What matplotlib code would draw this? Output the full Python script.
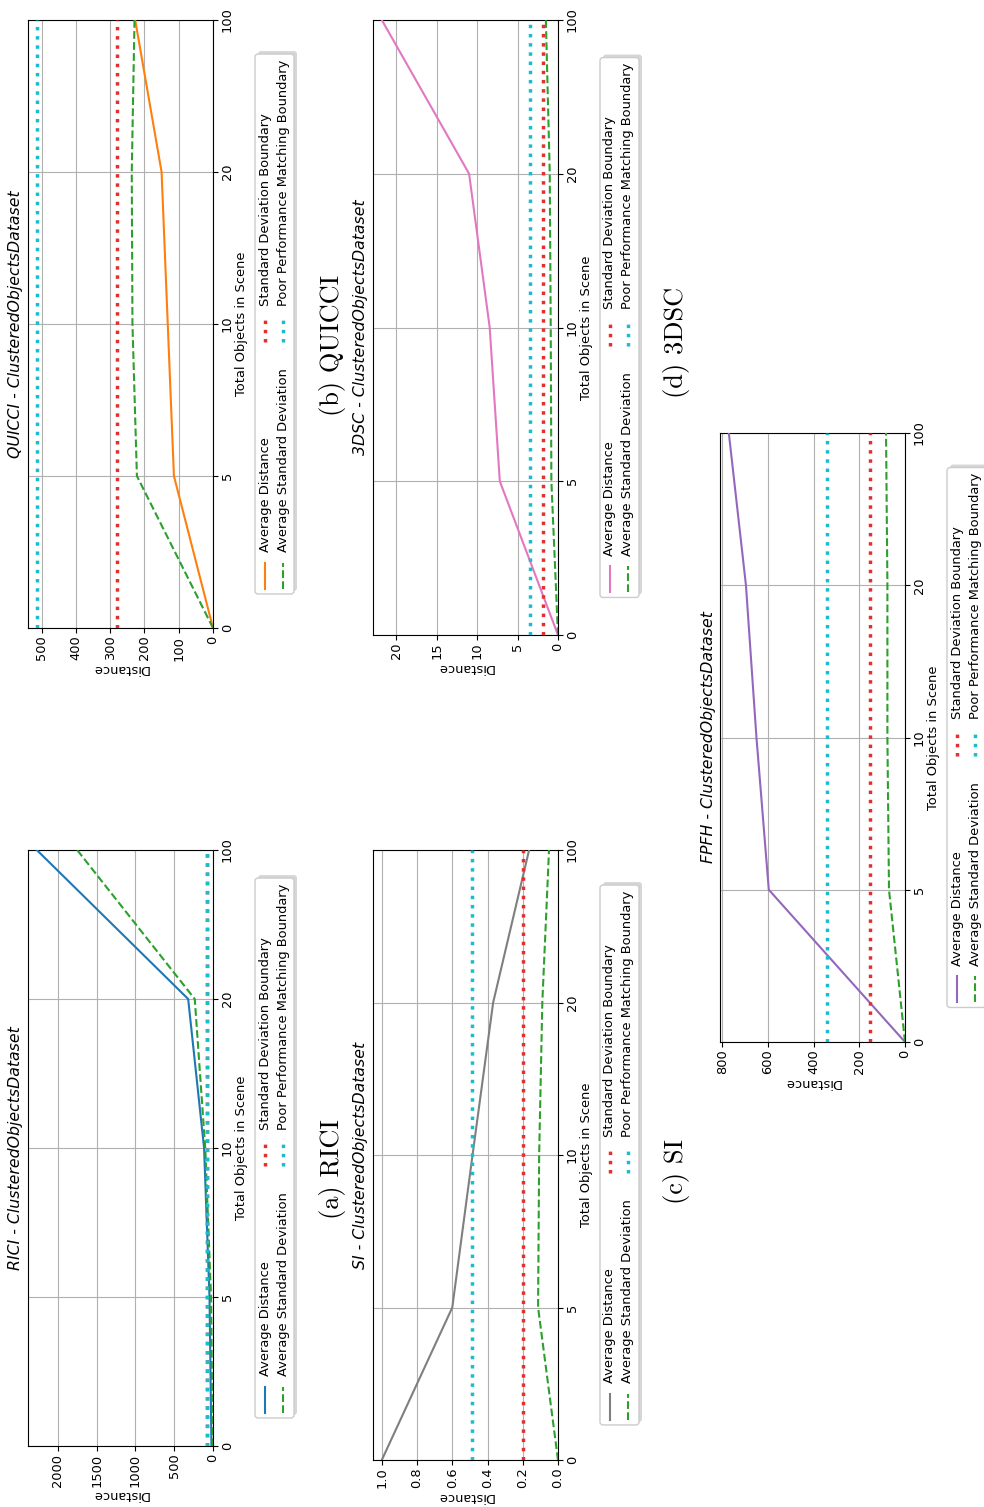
import matplotlib
matplotlib.use("Agg")
import matplotlib.pyplot as plt
import matplotlib.transforms as mtransforms
from matplotlib.patches import FancyBboxPatch
from matplotlib.lines import Line2D
from matplotlib.ticker import MultipleLocator

# ---------------------------------------------------------------- data
scene_ticks = ["0", "5", "10", "20", "100"]

legend_labels = ["Average Distance", "Average Standard Deviation",
                 "Standard Deviation Boundary", "Poor Performance Matching Boundary"]

rici_avg = [20, 45, 115, 320, 2270]
rici_std = [5, 25, 100, 235, 1750]
rici_sd_boundary = 82
rici_poor_boundary = 80

quicci_avg = [0, 114, 132, 150, 227]
quicci_std = [0, 222, 235, 237, 229]
quicci_sd_boundary = 280
quicci_poor_boundary = 514

si_avg = [1.0, 0.60, 0.485, 0.368, 0.164]
si_std = [0.0, 0.113, 0.107, 0.089, 0.051]
si_sd_boundary = 0.20
si_poor_boundary = 0.49

dsc_avg = [0, 7.2, 8.45, 11.0, 21.8]
dsc_std = [0, 0.82, 0.90, 1.02, 1.5]
dsc_sd_boundary = 1.9
dsc_poor_boundary = 3.5

fpfh_avg = [0, 596, 650, 696, 771]
fpfh_std = [0, 70, 77, 77, 83]
fpfh_sd_boundary = 153
fpfh_poor_boundary = 343

# ---------------------------------------------------------------- figure
W, H = 984, 1507
plt.rcParams["font.family"] = ["DejaVu Sans"]
FS = 9.4
TITLE_FS = 11.3
EM = FS * 100 / 72.0

RED = "#e3302f"
CYAN = "#17becf"
GREEN = "#2ca02c"

fig = plt.figure(figsize=(W / 100, H / 100), dpi=100)
# pixel coordinates, origin at top-left of the page
px = mtransforms.Affine2D().scale(1.0 / W, -1.0 / H).translate(0, 1) + fig.transFigure
renderer = fig.canvas.get_renderer()


def text_len(s):
    t = fig.text(0, 0, s, fontsize=FS)
    w = t.get_window_extent(renderer).width
    t.remove()
    return w


def rotated_legend(cx_left, cy, color):
    """Legend laid out sideways, two columns running bottom-to-top."""
    styles = [dict(color=color, ls="-", lw=1.5),
              dict(color=GREEN, ls="--", lw=1.5),
              dict(color=RED, ls=":", lw=2.5),
              dict(color=CYAN, ls=":", lw=2.5)]
    widths = [text_len(s) for s in legend_labels]
    col1 = 2.8 * EM + max(widths[0], widths[1])
    col2 = 2.8 * EM + max(widths[2], widths[3])
    length = 0.8 * EM + col1 + 2.0 * EM + col2
    bottom = cy + length / 2
    top = cy - length / 2
    left, right = cx_left, cx_left + 39
    shadow = FancyBboxPatch((left + 3, top - 3), right - left, length,
                            boxstyle="round,pad=0,rounding_size=3",
                            transform=px, facecolor="0.55", edgecolor="none",
                            alpha=0.35, zorder=4)
    frame = FancyBboxPatch((left, top), right - left, length,
                           boxstyle="round,pad=0,rounding_size=3",
                           transform=px, facecolor="white", edgecolor="0.8",
                           lw=1.0, zorder=5)
    fig.add_artist(shadow)
    fig.add_artist(frame)
    rows = [left + 10, left + 28]
    starts = [bottom - 0.4 * EM, bottom - 0.4 * EM - col1 - 2.0 * EM]
    for i, lab in enumerate(legend_labels):
        col, row = divmod(i, 2)
        s = starts[col]
        x = rows[row]
        fig.add_artist(Line2D([x, x], [s, s - 2.0 * EM], transform=px,
                              zorder=6, **styles[i]))
        fig.text(x, s - 2.8 * EM, lab, transform=px, rotation=90,
                 ha="center", va="bottom", fontsize=FS, zorder=6)


def panel(box, name, avg, std, sd_b, poor_b, color, step):
    x0, x1, y0, y1 = box
    ax = fig.add_axes([x0 / W, 1 - y1 / H, (x1 - x0) / W, (y1 - y0) / H])
    pos = list(range(len(scene_ticks)))
    ax.plot(avg, pos, color=color, lw=1.5, zorder=3)
    ax.plot(std, pos, color=GREEN, ls="--", lw=1.5, zorder=3)
    ax.axvline(sd_b, color=RED, ls=":", lw=2.5, zorder=3)
    ax.axvline(poor_b, color=CYAN, ls=":", lw=2.5, zorder=3)
    top = 1.05 * max(max(avg), max(std), sd_b, poor_b)
    ax.set_xlim(top, 0)
    ax.set_ylim(pos[0], pos[-1])
    ax.grid(True, color="#b0b0b0", lw=0.8)

    ax.set_yticks(pos)
    ax.set_yticklabels(scene_ticks, rotation=90, va="center", fontsize=FS)
    ax.yaxis.tick_right()
    ax.yaxis.set_label_position("right")
    ax.tick_params(axis="y", pad=2)
    ax.set_ylabel("Total Objects in Scene", fontsize=FS, rotation=90, labelpad=1)

    ax.xaxis.set_major_locator(MultipleLocator(step))
    ax.tick_params(axis="x", labelrotation=90, labelsize=FS, pad=2)
    ax.set_xlabel("Distance", fontsize=FS, rotation=180, labelpad=1)

    fig.text(x0 - 12, (y0 + y1) / 2, name + " - ClusteredObjectsDataset",
             transform=px, rotation=90, ha="center", va="center",
             fontsize=TITLE_FS, style="italic")
    rotated_legend(x1 + 42, (y0 + y1) / 2, color)
    return ax


panel((28, 213, 850, 1446), "RICI", rici_avg, rici_std,
      rici_sd_boundary, rici_poor_boundary, "#1f77b4", 500)
panel((28, 213, 20, 628), "QUICCI", quicci_avg, quicci_std,
      quicci_sd_boundary, quicci_poor_boundary, "#ff7f0e", 100)
panel((373, 558, 850, 1460), "SI", si_avg, si_std,
      si_sd_boundary, si_poor_boundary, "#7f7f7f", 0.2)
panel((373, 558, 20, 635), "3DSC", dsc_avg, dsc_std,
      dsc_sd_boundary, dsc_poor_boundary, "#e377c2", 5)
panel((720, 905, 433, 1042), "FPFH", fpfh_avg, fpfh_std,
      fpfh_sd_boundary, fpfh_poor_boundary, "#9467bd", 200)

captions = [("(a) RICI", 332, 1169), ("(b) QUICCI", 332, 345),
            ("(c) SI", 677, 1172), ("(d) 3DSC", 677, 342)]
for txt, cx, cy in captions:
    fig.text(cx, cy, txt, transform=px, rotation=90, ha="center", va="center",
             fontsize=19, family=["cmr10", "DejaVu Serif"])

fig.savefig("out.png", dpi=100)
